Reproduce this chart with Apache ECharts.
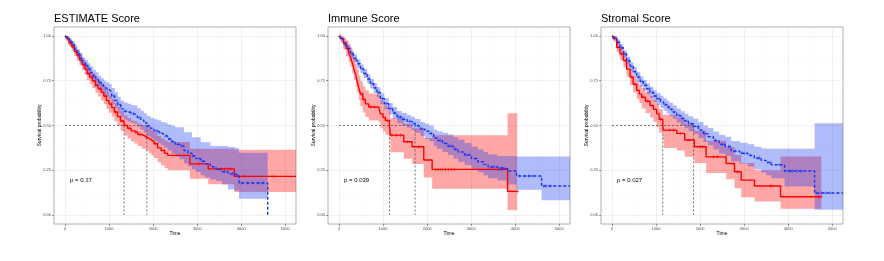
<!DOCTYPE html>
<html>
<head>
<meta charset="utf-8">
<script src="https://cdn.jsdelivr.net/npm/echarts@6/dist/echarts.min.js"></script>
<style>html,body{margin:0;padding:0;background:#fff}#c{width:884px;height:261px}</style>
</head>
<body>
<div id="c"></div>
<script>
// ---------- tick labels / text ----------
const xTicks = [0, 1000, 2000, 3000, 4000, 5000];
const xMinor = [500, 1500, 2500, 3500, 4500];
const yTicks = [0, 0.25, 0.5, 0.75, 1];
const yMinor = [0.125, 0.375, 0.625, 0.875];
const titles = ['ESTIMATE Score', 'Immune Score', 'Stromal Score'];
const pValues = ['p = 0.37', 'p = 0.039', 'p = 0.027'];
const xName = 'Time';
const yName = 'Survival probability';

// ---------- ESTIMATE Score ----------
const estRedTime  = [0,40,90,150,210,270,330,390,450,500,560,620,690,750,820,880,940,1000,1060,1120,1190,1260,1341,1420,1500,1570,1650,1740,1830,1900,1960,2020,2100,2180,2260,2330,2834,3250,3841,5243];
const estRedSurv  = [1,0.985,0.96,0.94,0.915,0.89,0.865,0.84,0.815,0.79,0.77,0.75,0.725,0.705,0.685,0.665,0.64,0.62,0.6,0.575,0.55,0.525,0.5,0.485,0.47,0.463,0.45,0.44,0.43,0.42,0.41,0.398,0.375,0.36,0.345,0.333,0.286,0.258,0.216,0.216];
const estRedUpper = [1,0.996,0.978,0.962,0.94,0.918,0.895,0.872,0.85,0.827,0.808,0.79,0.767,0.748,0.73,0.711,0.688,0.669,0.65,0.627,0.603,0.58,0.556,0.542,0.528,0.522,0.51,0.501,0.492,0.483,0.474,0.463,0.442,0.428,0.415,0.408,0.37,0.37,0.364,0.364];
const estRedLower = [1,0.972,0.942,0.918,0.89,0.862,0.835,0.808,0.78,0.753,0.732,0.71,0.683,0.662,0.64,0.619,0.592,0.571,0.55,0.523,0.497,0.47,0.444,0.428,0.41,0.4,0.385,0.372,0.36,0.345,0.333,0.318,0.295,0.278,0.262,0.25,0.203,0.172,0.128,0.128];
const estRedCensor = [60,120,180,250,320,420,520,610,700,800,900,1050,1150,1300,1450,1600,1700,1850,2050,2250,2450,2600,2700,3050,3550,3620,3700,3760,4050,4100,4700,4760];

const estBlueTime  = [0,40,100,160,220,280,340,400,460,520,580,640,700,760,820,880,940,1000,1060,1130,1200,1265,1340,1420,1500,1570,1640,1720,1790,1857,1940,2020,2100,2180,2250,2330,2420,2500,2600,2700,2790,2880,2970,3080,3175,3300,3430,3560,3700,3850,3950,4600];
const estBlueSurv  = [1,0.99,0.97,0.95,0.925,0.9,0.875,0.85,0.835,0.815,0.795,0.775,0.76,0.74,0.725,0.71,0.7,0.69,0.665,0.64,0.615,0.593,0.58,0.572,0.565,0.56,0.545,0.53,0.515,0.497,0.485,0.47,0.46,0.45,0.44,0.425,0.41,0.395,0.385,0.36,0.345,0.33,0.315,0.3,0.286,0.27,0.255,0.242,0.23,0.223,0.179,0];
const estBlueUpper = [1,1,0.985,0.97,0.948,0.926,0.903,0.88,0.866,0.848,0.83,0.811,0.797,0.778,0.764,0.75,0.741,0.732,0.709,0.685,0.661,0.64,0.628,0.621,0.615,0.611,0.597,0.583,0.569,0.553,0.542,0.535,0.53,0.52,0.515,0.505,0.5,0.49,0.49,0.463,0.463,0.435,0.435,0.407,0.407,0.385,0.385,0.385,0.38,0.375,0.348,0];
const estBlueLower = [1,0.98,0.955,0.93,0.902,0.874,0.847,0.82,0.804,0.782,0.76,0.739,0.723,0.702,0.686,0.67,0.659,0.648,0.621,0.595,0.569,0.546,0.532,0.523,0.515,0.509,0.493,0.477,0.461,0.441,0.428,0.412,0.4,0.39,0.378,0.36,0.344,0.325,0.312,0.288,0.272,0.256,0.24,0.222,0.21,0.198,0.19,0.17,0.142,0.135,0.091,0];
const estBlueCensor = [50,130,200,300,370,480,560,680,790,870,960,1100,1250,1380,1480,1550,1680,1900,2070,2150,2280,2380,2450,2550,2650,2900,3050,3120,3480,3620,3800,3900,4000,4150,4250,4400,4480];
const estMedians = [1341, 1857];

// ---------- Immune Score ----------
const immRedTime  = [0,40,100,160,220,258,300,340,380,409,450,485,540,598,674,902,939,1000,1053,1144,1167,1470,1660,1924,2114,3826,4045];
const immRedSurv  = [1,0.985,0.96,0.93,0.905,0.882,0.85,0.815,0.78,0.75,0.71,0.677,0.645,0.621,0.603,0.594,0.565,0.545,0.528,0.5,0.446,0.409,0.381,0.307,0.255,0.132,0.132];
const immRedUpper = [1,0.998,0.99,0.975,0.955,0.935,0.908,0.875,0.843,0.815,0.778,0.747,0.717,0.695,0.678,0.67,0.642,0.623,0.607,0.58,0.54,0.51,0.485,0.43,0.446,0.569,0.569];
const immRedLower = [1,0.96,0.925,0.885,0.855,0.828,0.792,0.755,0.717,0.685,0.642,0.607,0.573,0.547,0.528,0.518,0.488,0.467,0.449,0.42,0.35,0.315,0.285,0.21,0.147,0.028,0.028];
const immRedCensor = [30,80,150,200,500,560,720,800,1100,1200,1300,1400,1550,1800,2200,2260,2300,2350,2420,2480,2550,2620,3600,3700,4045];

const immBlueTime  = [0,40,106,180,258,330,410,485,560,640,712,790,860,939,1030,1129,1220,1318,1430,1545,1640,1727,1850,1950,2050,2150,2227,2350,2470,2600,2704,2850,3008,3150,3280,3386,3600,3841,4030,4598,5243];
const immBlueSurv  = [1,0.985,0.956,0.93,0.9,0.875,0.845,0.817,0.79,0.76,0.733,0.71,0.685,0.65,0.622,0.594,0.57,0.547,0.535,0.523,0.512,0.498,0.48,0.468,0.455,0.43,0.416,0.4,0.385,0.368,0.352,0.335,0.315,0.298,0.283,0.268,0.258,0.246,0.218,0.162,0.162];
const immBlueUpper = [1,0.995,0.972,0.948,0.92,0.896,0.868,0.841,0.815,0.786,0.76,0.738,0.714,0.68,0.653,0.626,0.603,0.581,0.57,0.559,0.549,0.536,0.52,0.51,0.5,0.478,0.468,0.46,0.45,0.435,0.42,0.402,0.382,0.366,0.352,0.338,0.33,0.33,0.327,0.327,0.327];
const immBlueLower = [1,0.975,0.94,0.912,0.88,0.854,0.822,0.793,0.765,0.734,0.706,0.682,0.656,0.62,0.591,0.562,0.537,0.513,0.5,0.487,0.475,0.46,0.44,0.426,0.412,0.385,0.37,0.352,0.335,0.316,0.298,0.28,0.258,0.239,0.222,0.205,0.193,0.17,0.141,0.082,0.082];
const immBlueCensor = [60,140,220,300,370,450,520,600,680,750,830,900,980,1080,1180,1260,1350,1400,1480,1600,1700,1800,1900,2100,2300,2420,2500,2550,2650,2900,3100,3450,3520,3650,3700,3750,4100,4200,4300,4400,4650,4700,4800];
const immMedians = [1144, 1727];

// ---------- Stromal Score ----------
const strRedTime  = [0,40,106,180,258,330,409,480,561,620,674,760,864,940,1015,1070,1152,1170,1470,1650,1870,2136,2591,2780,2932,3235,3826,4750];
const strRedSurv  = [1,0.985,0.937,0.9,0.863,0.815,0.77,0.73,0.696,0.675,0.658,0.635,0.612,0.59,0.565,0.535,0.5,0.474,0.456,0.419,0.381,0.325,0.288,0.242,0.195,0.162,0.102,0.102];
const strRedUpper = [1,0.998,0.965,0.935,0.902,0.857,0.815,0.777,0.745,0.725,0.709,0.687,0.665,0.644,0.62,0.591,0.558,0.56,0.545,0.51,0.47,0.415,0.38,0.335,0.29,0.25,0.327,0.327];
const strRedLower = [1,0.968,0.91,0.866,0.825,0.774,0.726,0.684,0.648,0.626,0.595,0.57,0.545,0.52,0.49,0.46,0.42,0.375,0.36,0.325,0.29,0.235,0.2,0.15,0.1,0.075,0.035,0.035];
const strRedCensor = [50,120,220,300,450,520,700,800,1100,1300,1400,1550,1750,2000,2050,2300,2400,2850,3600,4700,4750];

const strBlueTime  = [0,40,106,180,258,333,410,485,561,640,712,788,860,940,1015,1100,1170,1242,1300,1380,1470,1560,1650,1735,1848,1960,2076,2180,2300,2430,2568,2704,2900,3083,3230,3386,3500,3614,3917,4598,5243];
const strBlueSurv  = [1,0.99,0.965,0.935,0.9,0.863,0.83,0.8,0.77,0.745,0.725,0.705,0.685,0.665,0.649,0.632,0.617,0.603,0.59,0.575,0.556,0.54,0.525,0.51,0.495,0.475,0.454,0.438,0.416,0.395,0.383,0.357,0.345,0.333,0.318,0.305,0.293,0.281,0.246,0.123,0.123];
const strBlueUpper = [1,0.998,0.98,0.953,0.92,0.885,0.854,0.826,0.797,0.773,0.754,0.735,0.716,0.697,0.682,0.666,0.652,0.639,0.627,0.613,0.595,0.58,0.566,0.552,0.538,0.52,0.5,0.486,0.466,0.447,0.437,0.414,0.404,0.395,0.382,0.372,0.37,0.37,0.37,0.513,0.513];
const strBlueLower = [1,0.98,0.95,0.917,0.88,0.841,0.806,0.774,0.743,0.717,0.696,0.675,0.654,0.633,0.616,0.598,0.582,0.567,0.553,0.537,0.517,0.5,0.484,0.468,0.452,0.43,0.408,0.39,0.366,0.343,0.329,0.3,0.286,0.271,0.254,0.238,0.222,0.205,0.16,0.03,0.03];
const strBlueCensor = [50,130,210,290,370,450,530,610,690,770,850,920,1000,1080,1200,1280,1350,1420,1520,1600,1700,1800,1950,2100,2200,2350,2500,2550,2650,2800,2950,3000,3150,3300,3350,3600,3800,4000,4050,4100,4200,4300,4650,4750,4850,4950];
const strMedians = [1152, 1848];

// ---------- build ----------
const RED = '#ff0000', BLUE = '#1a35f2';
const RED_FILL = 'rgba(255,0,0,0.35)', BLUE_FILL = 'rgba(30,60,240,0.35)';
const FONT = '"Liberation Sans", Arial, Helvetica, sans-serif';
const X_MIN = -250, X_MAX = 5243, Y_MIN = -0.05, Y_MAX = 1.05;

const panels = [
  {red:[estRedTime,estRedSurv,estRedUpper,estRedLower,estRedCensor], blue:[estBlueTime,estBlueSurv,estBlueUpper,estBlueLower,estBlueCensor], med:estMedians},
  {red:[immRedTime,immRedSurv,immRedUpper,immRedLower,immRedCensor], blue:[immBlueTime,immBlueSurv,immBlueUpper,immBlueLower,immBlueCensor], med:immMedians},
  {red:[strRedTime,strRedSurv,strRedUpper,strRedLower,strRedCensor], blue:[strBlueTime,strBlueSurv,strBlueUpper,strBlueLower,strBlueCensor], med:strMedians}
];
const gridLeft = [54, 328, 601];

function stepPoints(times, vals) {
  const out = [];
  for (let i = 0; i < times.length; i++) {
    out.push([times[i], vals[i]]);
    if (i + 1 < times.length) out.push([times[i + 1], vals[i]]);
  }
  return out;
}
function survAt(times, vals, t) {
  let v = vals[0];
  for (let i = 0; i < times.length; i++) { if (times[i] <= t) v = vals[i]; }
  return v;
}
function bandSeries(ax, times, upper, lower, fill) {
  return {
    type: 'custom', xAxisIndex: ax, yAxisIndex: ax, silent: true, z: 1,
    data: [[0, 0]], clip: true,
    renderItem: function (params, api) {
      const pts = [];
      for (let i = 0; i + 1 < times.length; i++) {
        pts.push(api.coord([times[i], upper[i]]));
        pts.push(api.coord([times[i + 1], upper[i]]));
      }
      for (let i = times.length - 2; i >= 0; i--) {
        pts.push(api.coord([times[i + 1], lower[i]]));
        pts.push(api.coord([times[i], lower[i]]));
      }
      return { type: 'polygon', shape: { points: pts }, style: { fill: fill } };
    }
  };
}
const plusPath = 'path://M-0.5,-3H0.5V-0.5H3V0.5H0.5V3H-0.5V0.5H-3V-0.5H-0.5Z';

const grids = [], xAxes = [], yAxes = [], series = [], graphics = [];
panels.forEach((p, gi) => {
  grids.push({ left: gridLeft[gi], top: 27, width: 242, height: 197, show: true,
    borderColor: '#999', borderWidth: 0.8, backgroundColor: '#fff', containLabel: false });
  const ax = gi * 2;
  xAxes.push({ type: 'value', gridIndex: gi, min: X_MIN, max: X_MAX,
    name: xName, nameLocation: 'middle', nameGap: 7, nameMoveOverlap: false,
    nameTextStyle: { fontSize: 5, color: '#000', fontFamily: FONT },
    axisLine: { show: false, onZero: false },
    axisTick: { show: true, length: 2, customValues: xTicks, lineStyle: { color: '#333', width: 0.5 } },
    axisLabel: { show: true, customValues: xTicks, fontSize: 4, color: '#4d4d4d', margin: 3, fontFamily: FONT, formatter: v => String(v) },
    splitLine: { show: true, lineStyle: { color: '#e6e6e6', width: 0.6 } } });
  xAxes.push({ type: 'value', gridIndex: gi, min: X_MIN, max: X_MAX,
    axisLine: { show: false, onZero: false },
    axisTick: { show: false, customValues: xMinor }, axisLabel: { show: false, customValues: xMinor },
    splitLine: { show: true, lineStyle: { color: '#f2f2f2', width: 0.4 } } });
  yAxes.push({ type: 'value', gridIndex: gi, min: Y_MIN, max: Y_MAX,
    name: yName, nameLocation: 'middle', nameGap: 12, nameRotate: 90, nameMoveOverlap: false,
    nameTextStyle: { fontSize: 5, color: '#000', fontFamily: FONT },
    axisLine: { show: false, onZero: false },
    axisTick: { show: true, length: 2, customValues: yTicks, lineStyle: { color: '#333', width: 0.5 } },
    axisLabel: { show: true, customValues: yTicks, fontSize: 4, color: '#4d4d4d', margin: 3, fontFamily: FONT, formatter: v => v.toFixed(2) },
    splitLine: { show: true, lineStyle: { color: '#e6e6e6', width: 0.6 } } });
  yAxes.push({ type: 'value', gridIndex: gi, min: Y_MIN, max: Y_MAX,
    axisLine: { show: false, onZero: false },
    axisTick: { show: false, customValues: yMinor }, axisLabel: { show: false, customValues: yMinor },
    splitLine: { show: true, lineStyle: { color: '#f2f2f2', width: 0.4 } } });

  const [rt, rs, ru, rl, rc] = p.red;
  const [bt, bs, bu, bl, bc] = p.blue;
  series.push(bandSeries(ax, rt, ru, rl, RED_FILL));
  series.push(bandSeries(ax, bt, bu, bl, BLUE_FILL));
  // median guide lines
  const mMax = Math.max.apply(null, p.med);
  const dashStyle = { color: '#555', width: 0.8, type: [2, 2] };
  series.push({ type: 'line', xAxisIndex: ax, yAxisIndex: ax, data: [[0, 0.5], [mMax, 0.5]], showSymbol: false, silent: true, z: 2, lineStyle: dashStyle });
  p.med.forEach(m => {
    series.push({ type: 'line', xAxisIndex: ax, yAxisIndex: ax, data: [[m, 0.5], [m, 0]], showSymbol: false, silent: true, z: 2, lineStyle: dashStyle });
  });
  series.push({ type: 'line', xAxisIndex: ax, yAxisIndex: ax, data: stepPoints(rt, rs), showSymbol: false, silent: true, z: 3,
    lineStyle: { color: RED, width: 1.4 } });
  series.push({ type: 'line', xAxisIndex: ax, yAxisIndex: ax, data: stepPoints(bt, bs), showSymbol: false, silent: true, z: 3,
    lineStyle: { color: BLUE, width: 1.4, type: [3, 2] } });
  series.push({ type: 'scatter', xAxisIndex: ax, yAxisIndex: ax, silent: true, z: 4, symbol: plusPath, symbolSize: 3.5,
    itemStyle: { color: RED }, data: rc.map(t => [t, survAt(rt, rs, t)]) });
  series.push({ type: 'scatter', xAxisIndex: ax, yAxisIndex: ax, silent: true, z: 4, symbol: plusPath, symbolSize: 3.5,
    itemStyle: { color: BLUE }, data: bc.map(t => [t, survAt(bt, bs, t)]) });

  graphics.push({ type: 'text', x: gridLeft[gi], y: 19, style: { text: titles[gi], fontSize: 11, fontFamily: FONT, fill: '#000', verticalAlign: 'middle', align: 'left' } });
  graphics.push({ type: 'text', x: gridLeft[gi] + 16, y: 180, style: { text: pValues[gi], fontSize: 6, fontFamily: FONT, fill: '#000', verticalAlign: 'middle', align: 'left' } });
});

const chart = echarts.init(document.getElementById('c'), null, { renderer: 'canvas' });
chart.setOption({
  animation: false,
  backgroundColor: '#fff',
  grid: grids, xAxis: xAxes, yAxis: yAxes, series: series, graphic: graphics
});
</script>
</body>
</html>
